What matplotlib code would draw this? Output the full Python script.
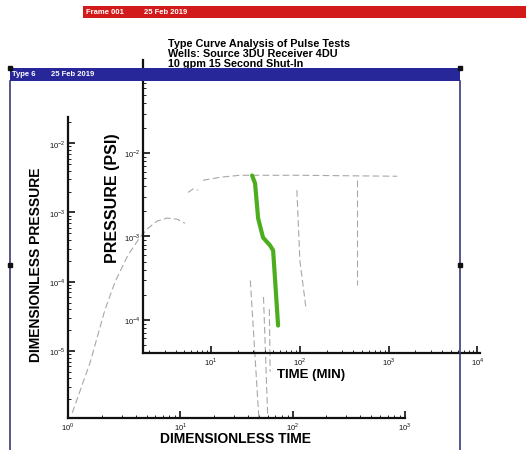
import numpy as np
import matplotlib.pyplot as plt
from matplotlib.lines import Line2D
from matplotlib.patches import Rectangle

W, H = 526, 450

# measured pressure response (inner plot: psi vs minutes)
time_min = [29.0, 31.3, 33.9, 38.5, 46.2, 50.0, 52.7, 56.9]
pressure_psi = [5.4e-3, 4.35e-3, 1.65e-3, 9.7e-4, 7.8e-4, 6.8e-4, 2.95e-4, 8.5e-5]

# type curves (outer plot: dimensionless time vs dimensionless pressure)
tc_rise_t = [1.09, 1.57, 2.13, 2.62, 3.42, 4.38, 5.15, 6.21, 7.62, 9.35, 11.0]
tc_rise_p = [1.27e-6, 6.7e-6, 3.9e-5, 9.9e-5, 2.42e-4, 4.4e-4, 5.9e-4, 7.5e-4,
             8.3e-4, 8.0e-4, 7.0e-4]
tc_upper_t = [15.9, 22.6, 34.0, 116, 851]
tc_upper_p = [2.92e-3, 3.23e-3, 3.45e-3, 3.45e-3, 3.34e-3]
tc_hook_t = [11.7, 13.0, 14.4]
tc_hook_p = [1.95e-3, 2.19e-3, 2.10e-3]
tc_drop1_t = [109, 116, 132]
tc_drop1_p = [2.1e-3, 2.0e-4, 3.9e-5]
tc_drop2_t = [374, 374]
tc_drop2_p = [2.9e-3, 8.9e-5]
tc_drop3_t = [55.0, 60.0]
tc_drop3_p = [6.0e-5, 1.07e-6]
tc_drop4_t = [42.0, 50.0]
tc_drop4_p = [1.04e-4, 1.07e-6]
tc_drop5_t = [62.0, 63.0]
tc_drop5_p = [4.0e-5, 5.0e-6]

outer_xticks = [1, 10, 100, 1000]
outer_xlabels = [r'$10^{0}$', r'$10^{1}$', r'$10^{2}$', r'$10^{3}$']
outer_yticks = [1e-2, 1e-3, 1e-4, 1e-5]
outer_ylabels = [r'$10^{-2}$', r'$10^{-3}$', r'$10^{-4}$', r'$10^{-5}$']
inner_xticks = [10, 100, 1000, 10000]
inner_xlabels = [r'$10^{1}$', r'$10^{2}$', r'$10^{3}$', r'$10^{4}$']
inner_yticks = [1e-2, 1e-3, 1e-4]
inner_ylabels = [r'$10^{-2}$', r'$10^{-3}$', r'$10^{-4}$']

plt.rcParams['font.family'] = ['Liberation Sans', 'DejaVu Sans']
plt.rcParams['mathtext.fontset'] = 'custom'
plt.rcParams['mathtext.rm'] = 'Liberation Sans'

fig = plt.figure(figsize=(W / 100, H / 100), dpi=100)
fig.patch.set_facecolor('white')


def box(x0, y0, x1, y1):
    """pixel box (top-left origin) -> figure rect"""
    return [x0 / W, (H - y1) / H, (x1 - x0) / W, (y1 - y0) / H]


def fx(px):
    return px / W


def fy(py):
    return (H - py) / H


def style_axes(ax):
    for s in ['top', 'right']:
        ax.spines[s].set_visible(False)
    for s in ['left', 'bottom']:
        ax.spines[s].set_linewidth(1.6)
        ax.spines[s].set_color('#111111')
    ax.patch.set_alpha(0)
    ax.tick_params(which='major', direction='in', length=5, width=1.2,
                   labelsize=5.5, colors='#111111', pad=2)
    ax.tick_params(which='minor', direction='in', length=2.5, width=0.7,
                   colors='#222222')


# outer plot
ax1 = fig.add_axes(box(68, 117, 405, 418))
ax1.set_xscale('log')
ax1.set_yscale('log')
ax1.set_xlim(1, 1000)
ax1.set_ylim(10 ** -5.97, 10 ** -1.62)
style_axes(ax1)
ax1.set_xticks(outer_xticks)
ax1.set_xticklabels(outer_xlabels)
ax1.set_yticks(outer_yticks)
ax1.set_yticklabels(outer_ylabels)

grey = dict(color='#a8a8a8', lw=0.8, ls=(0, (6, 3)))
ax1.plot(tc_rise_t, tc_rise_p, **grey)
ax1.plot(tc_upper_t, tc_upper_p, **grey)
ax1.plot(tc_hook_t, tc_hook_p, **grey)
ax1.plot(tc_drop1_t, tc_drop1_p, **grey)
ax1.plot(tc_drop2_t, tc_drop2_p, **grey)
ax1.plot(tc_drop3_t, tc_drop3_p, **grey)
ax1.plot(tc_drop4_t, tc_drop4_p, **grey)
ax1.plot(tc_drop5_t, tc_drop5_p, **grey)

fig.text(fx(235), fy(439), 'DIMENSIONLESS TIME', fontsize=10, fontweight='bold',
         ha='center', va='center')
fig.text(fx(36), fy(265), 'DIMENSIONLESS PRESSURE', fontsize=10, fontweight='bold',
         ha='center', va='center', rotation=90)

# inner plot
ax2 = fig.add_axes(box(143, 60, 480, 353))
ax2.set_xscale('log')
ax2.set_yscale('log')
ax2.set_xlim(10 ** 0.233, 10 ** 4.03)
ax2.set_ylim(10 ** -4.40, 10 ** -0.88)
style_axes(ax2)
ax2.set_xticks(inner_xticks)
ax2.set_xticklabels(inner_xlabels)
ax2.set_yticks(inner_yticks)
ax2.set_yticklabels(inner_ylabels)
ax2.plot(time_min, pressure_psi, color='#4cae1f', lw=3, solid_capstyle='round')

fig.text(fx(311), fy(375), 'TIME (MIN)', fontsize=9.5, fontweight='bold',
         ha='center', va='center')
fig.text(fx(113), fy(198), 'PRESSURE (PSI)', fontsize=11.5, fontweight='bold',
         ha='center', va='center', rotation=90)

# title block
fig.text(fx(168), fy(44), 'Type Curve Analysis of Pulse Tests', fontsize=7.8,
         fontweight='bold', va='center')
fig.text(fx(168), fy(54), 'Wells: Source 3DU Receiver 4DU', fontsize=7.8,
         fontweight='bold', va='center')
fig.text(fx(168), fy(64), '10 gpm 15 Second Shut-In', fontsize=7.8,
         fontweight='bold', va='center')

# frame header bars
fig.add_artist(Rectangle((fx(83), fy(18)), fx(526) - fx(83), fy(6) - fy(18),
                         transform=fig.transFigure, color='#d21a1a', lw=0))
fig.text(fx(86), fy(12), 'Frame 001', fontsize=5.5,
         color='white', fontweight='bold', va='center')
fig.text(fx(144), fy(12), '25 Feb 2019', fontsize=5.5,
         color='white', fontweight='bold', va='center')

fig.add_artist(Rectangle((fx(10), fy(81)), fx(460) - fx(10), fy(68) - fy(81),
                         transform=fig.transFigure, color='#27279a', lw=0,
                         zorder=5))
fig.text(fx(12), fy(74.5), 'Type 6', fontsize=5.5,
         color='white', fontweight='bold', va='center', zorder=6)
fig.text(fx(51), fy(74.5), '25 Feb 2019', fontsize=5.5,
         color='white', fontweight='bold', va='center', zorder=6)

# frame borders
for px in (10, 460):
    fig.add_artist(Line2D([fx(px), fx(px)], [fy(81), fy(450)],
                          transform=fig.transFigure, color='#3b3b78', lw=1.2))
for px, py in [(10, 68), (460, 68), (460, 265), (10, 265)]:
    fig.add_artist(Line2D([fx(px)], [fy(py)], transform=fig.transFigure,
                          marker='s', markersize=3, color='#111111', zorder=7))

fig.savefig('out.png', dpi=100)
